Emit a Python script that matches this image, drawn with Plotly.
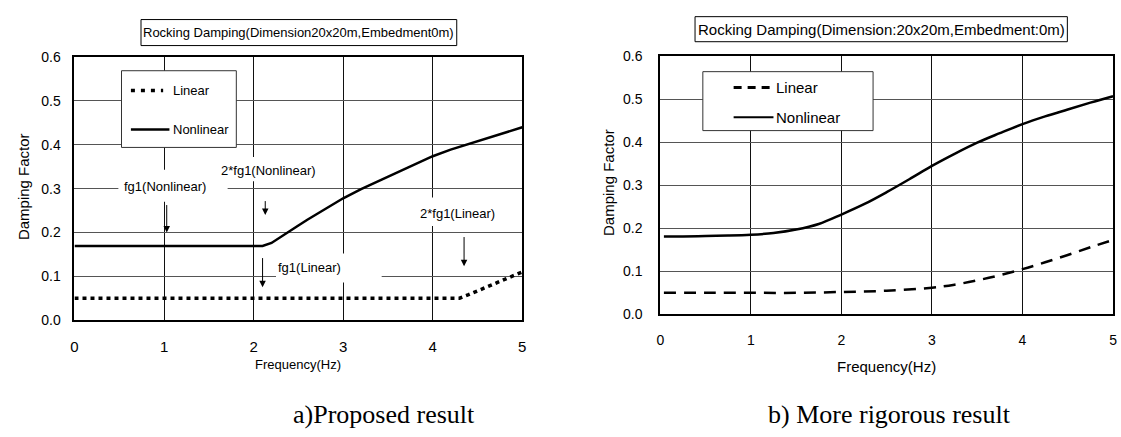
import plotly.graph_objects as go

# ---------------- data ----------------
# a) Proposed result
a_lin_f = [0.0, 0.5, 1.0, 1.5, 2.0, 2.5, 3.0, 3.5, 4.0, 4.3, 4.4, 4.6, 4.8, 5.0]
a_lin_d = [0.05, 0.05, 0.05, 0.05, 0.05, 0.05, 0.05, 0.05, 0.05, 0.05, 0.058, 0.075, 0.092, 0.11]
a_non_f = [0.0, 0.5, 1.0, 1.5, 2.0, 2.1, 2.2, 2.3, 2.4, 2.5, 2.6, 2.8, 3.0, 3.2, 3.4, 3.6, 3.8, 4.0, 4.2, 4.4, 4.6, 4.8, 5.0]
a_non_d = [0.169, 0.169, 0.169, 0.169, 0.169, 0.169, 0.176, 0.19, 0.203, 0.216, 0.229, 0.254, 0.278, 0.299, 0.318,
           0.336, 0.356, 0.374, 0.389, 0.402, 0.414, 0.427, 0.44]
# b) More rigorous result
b_lin_f = [0.04, 0.5, 1.0, 1.5, 2.0, 2.5, 3.0, 3.25, 3.5, 3.75, 4.0, 4.25, 4.5, 4.75, 5.0]
b_lin_d = [0.05, 0.05, 0.05, 0.05, 0.052, 0.055, 0.062, 0.069, 0.079, 0.091, 0.105, 0.121, 0.138, 0.156, 0.173]
b_non_f = [0.04, 0.25, 0.5, 0.75, 1.0, 1.25, 1.5, 1.75, 2.0, 2.25, 2.5, 2.75, 3.0, 3.25, 3.5, 3.75, 4.0, 4.25, 4.5, 4.75, 5.0]
b_non_d = [0.181, 0.181, 0.182, 0.183, 0.185, 0.189, 0.197, 0.21, 0.232, 0.256, 0.284, 0.314, 0.345, 0.373, 0.399,
           0.421, 0.442, 0.46, 0.476, 0.492, 0.507]

x_ticks = [0, 1, 2, 3, 4, 5]
y_ticks = [0.0, 0.1, 0.2, 0.3, 0.4, 0.5, 0.6]
title_a = "Rocking Damping(Dimension20x20m,Embedment0m)"
title_b = "Rocking Damping(Dimension:20x20m,Embedment:0m)"
x_title = "Frequency(Hz)"
y_title = "Damping Factor"
caption_a = "a)Proposed result"
caption_b = "b) More rigorous result"
legend_names = ["Linear", "Nonlinear"]
# annotations of the proposed chart: (text, text x, text y, arrow x, arrow start y, arrow tip y)
a_marks = [
    ("fg1(Nonlinear)", 1.01, 0.304, 1.03, 0.266, 0.200),
    ("2*fg1(Nonlinear)", 2.17, 0.342, 2.13, 0.275, 0.240),
    ("fg1(Linear)", 2.62, 0.119, 2.10, 0.145, 0.075),
    ("2*fg1(Linear)", 4.28, 0.243, 4.35, 0.193, 0.123),
]

# ---------------- layout helpers ----------------
W, H = 1121, 437
def fx(p):
    return p / W
def fy(p):
    return 1 - p / H

SANS = "Liberation Sans, Arial, sans-serif"
SERIF = "Liberation Serif, Times New Roman, serif"
BLK = "black"

fig = go.Figure()

fig.add_trace(go.Scatter(x=a_non_f, y=a_non_d, mode="lines", line=dict(color=BLK, width=2.5),
                         xaxis="x", yaxis="y", showlegend=False))
fig.add_trace(go.Scatter(x=a_lin_f, y=a_lin_d, mode="lines", line=dict(color=BLK, width=3.5, dash="4px,4px"),
                         xaxis="x", yaxis="y", showlegend=False))
fig.add_trace(go.Scatter(x=b_non_f, y=b_non_d, mode="lines", line=dict(color=BLK, width=2.5, shape="spline"),
                         xaxis="x2", yaxis="y2", showlegend=False))
fig.add_trace(go.Scatter(x=b_lin_f, y=b_lin_d, mode="lines", line=dict(color=BLK, width=2.5, dash="12px,8px", shape="spline"),
                         xaxis="x2", yaxis="y2", showlegend=False))

xaxis_common = dict(range=[0, 5], tickvals=x_ticks, showgrid=True, gridcolor="#111", gridwidth=1,
                    showline=True, linecolor=BLK, linewidth=2, mirror=True, zeroline=False, ticks="",
                    ticklabelstandoff=12)
yaxis_common = dict(range=[0, 0.6], tickvals=y_ticks, tickformat=".1f", showgrid=True, gridcolor="#555", gridwidth=1,
                    showline=True, linecolor=BLK, linewidth=2, mirror=True, zeroline=False, ticks="")

fig.update_layout(
    width=W, height=H, margin=dict(l=0, r=0, t=0, b=0),
    paper_bgcolor="white", plot_bgcolor="white", showlegend=False,
    xaxis=dict(xaxis_common, domain=[fx(71), fx(522)], anchor="y", tickfont=dict(family=SANS, size=15, color=BLK)),
    yaxis=dict(yaxis_common, domain=[fy(324), fy(51)], anchor="x", ticklabelstandoff=9,
               tickfont=dict(family=SANS, size=14, color=BLK)),
    xaxis2=dict(xaxis_common, domain=[fx(661), fx(1117)], anchor="y2", tickfont=dict(family=SANS, size=14, color=BLK)),
    yaxis2=dict(yaxis_common, domain=[fy(318), fy(50)], anchor="x2", ticklabelstandoff=13,
                tickfont=dict(family=SANS, size=14, color=BLK)),
)

shapes = []
ann = []

# title boxes
shapes.append(dict(type="rect", xref="paper", yref="paper", x0=fx(138), x1=fx(456), y0=fy(39), y1=fy(12),
                   line=dict(color=BLK, width=1), fillcolor="white"))
ann.append(dict(text=title_a, xref="paper", yref="paper", x=fx(297), y=fy(25.5), showarrow=False,
                font=dict(family=SANS, size=13, color=BLK), xanchor="center", yanchor="middle"))
shapes.append(dict(type="rect", xref="paper", yref="paper", x0=fx(696), x1=fx(1071), y0=fy(35), y1=fy(9),
                   line=dict(color=BLK, width=1), fillcolor="white"))
ann.append(dict(text=title_b, xref="paper", yref="paper", x=fx(883.5), y=fy(22), showarrow=False,
                font=dict(family=SANS, size=15, color=BLK), xanchor="center", yanchor="middle"))

# axis titles
ann.append(dict(text=x_title, xref="paper", yref="paper", x=fx(296.5), y=fy(370), showarrow=False,
                font=dict(family=SANS, size=13, color=BLK), xanchor="center", yanchor="middle"))
ann.append(dict(text=x_title, xref="paper", yref="paper", x=fx(889), y=fy(372), showarrow=False,
                font=dict(family=SANS, size=15, color=BLK), xanchor="center", yanchor="middle"))
ann.append(dict(text=y_title, xref="paper", yref="paper", x=fx(19), y=fy(185), showarrow=False, textangle=-90,
                font=dict(family=SANS, size=15, color=BLK), xanchor="center", yanchor="middle"))
ann.append(dict(text=y_title, xref="paper", yref="paper", x=fx(609), y=fy(181), showarrow=False, textangle=-90,
                font=dict(family=SANS, size=15, color=BLK), xanchor="center", yanchor="middle"))

# captions
ann.append(dict(text=caption_a, xref="paper", yref="paper", x=fx(383), y=fy(422), showarrow=False,
                font=dict(family=SERIF, size=26, color=BLK), xanchor="center", yanchor="middle"))
ann.append(dict(text=caption_b, xref="paper", yref="paper", x=fx(892), y=fy(422), showarrow=False,
                font=dict(family=SERIF, size=26, color=BLK), xanchor="center", yanchor="middle"))

# legend a (custom, in data coords)
shapes.append(dict(type="rect", xref="x", yref="y", x0=0.525, x1=1.807, y0=0.394, y1=0.569,
                   line=dict(color="#333", width=1), fillcolor="white", layer="above"))
shapes.append(dict(type="line", xref="x", yref="y", x0=0.63, x1=0.99, y0=0.524, y1=0.524,
                   line=dict(color=BLK, width=3.5, dash="4px,6px")))
shapes.append(dict(type="line", xref="x", yref="y", x0=0.63, x1=1.06, y0=0.435, y1=0.435,
                   line=dict(color=BLK, width=2.5)))
ann.append(dict(text=legend_names[0], xref="x", yref="y", x=1.08, y=0.524, showarrow=False, xanchor="left",
                yanchor="middle", font=dict(family=SANS, size=13, color=BLK)))
ann.append(dict(text=legend_names[1], xref="x", yref="y", x=1.08, y=0.435, showarrow=False, xanchor="left",
                yanchor="middle", font=dict(family=SANS, size=13, color=BLK)))

# legend b
shapes.append(dict(type="rect", xref="x2", yref="y2", x0=0.47, x1=2.35, y0=0.427, y1=0.564,
                   line=dict(color="#333", width=1), fillcolor="white", layer="above"))
shapes.append(dict(type="line", xref="x2", yref="y2", x0=0.81, x1=1.23, y0=0.527, y1=0.527,
                   line=dict(color=BLK, width=3, dash="8px,6px")))
shapes.append(dict(type="line", xref="x2", yref="y2", x0=0.81, x1=1.25, y0=0.458, y1=0.458,
                   line=dict(color=BLK, width=2)))
ann.append(dict(text=legend_names[0], xref="x2", yref="y2", x=1.26, y=0.527, showarrow=False, xanchor="left",
                yanchor="middle", font=dict(family=SANS, size=15, color=BLK)))
ann.append(dict(text=legend_names[1], xref="x2", yref="y2", x=1.26, y=0.458, showarrow=False, xanchor="left",
                yanchor="middle", font=dict(family=SANS, size=15, color=BLK)))

# white masks behind annotation labels (gridlines are interrupted there)
masks = [(0.49, 1.71, 0.270, 0.343), (1.64, 2.70, 0.317, 0.372), (2.25, 3.43, 0.086, 0.152), (3.85, 4.71, 0.215, 0.280)]
for x0, x1, y0, y1 in masks:
    shapes.append(dict(type="rect", xref="x", yref="y", x0=x0, x1=x1, y0=y0, y1=y1,
                       line=dict(width=0), fillcolor="white", layer="above"))

for text, tx, ty, axx, ys, yt in a_marks:
    ann.append(dict(text=text, xref="x", yref="y", x=tx, y=ty, showarrow=False, xanchor="center",
                    yanchor="middle", font=dict(family=SANS, size=13, color=BLK)))
    ann.append(dict(text="", xref="x", yref="y", x=axx, y=yt, ax=axx, ay=ys, axref="x", ayref="y",
                    showarrow=True, arrowhead=2, arrowsize=1.3, arrowwidth=1, arrowcolor=BLK))

fig.update_layout(shapes=shapes, annotations=ann)
fig.write_html("out.html")
